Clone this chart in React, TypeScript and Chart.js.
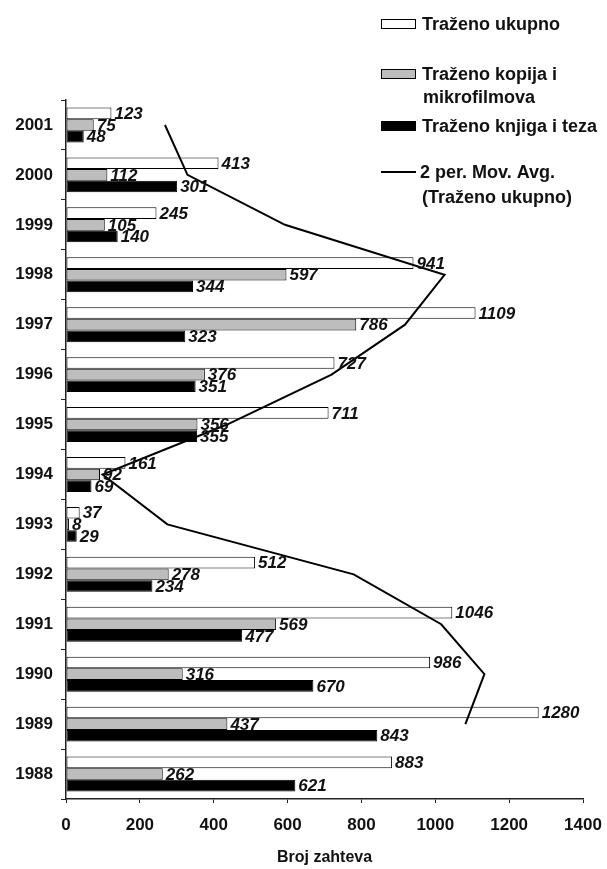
import React, { useEffect, useRef } from "react";
import { Chart, registerables } from "chart.js";

Chart.register(...registerables);

// Years listed top to bottom as they appear on the axis
const years = ["2001", "2000", "1999", "1998", "1997", "1996", "1995", "1994", "1993", "1992", "1991", "1990", "1989", "1988"];
const trazenoUkupno = [123, 413, 245, 941, 1109, 727, 711, 161, 37, 512, 1046, 986, 1280, 883];
const trazenoKopija = [75, 112, 105, 597, 786, 376, 356, 92, 8, 278, 569, 316, 437, 262];
const trazenoKnjiga = [48, 301, 140, 344, 323, 351, 355, 69, 29, 234, 477, 670, 843, 621];
// 2-period moving average of "Traženo ukupno" (no value for the first year, 1988)
const movingAvg = [268, 329, 593, 1025, 918, 719, 436, 99, 274.5, 779, 1016, 1133, 1081.5, null];
const xTicks = [0, 200, 400, 600, 800, 1000, 1200, 1400];

const FONT = '"Liberation Sans", Arial, sans-serif';
const W = 607;
const H = 869;

const valueLabels = {
  id: "valueLabels",
  afterDatasetsDraw(chart: any) {
    const ctx = chart.ctx;
    ctx.save();
    ctx.font = `italic bold 17px ${FONT}`;
    ctx.fillStyle = "#111";
    ctx.textAlign = "left";
    ctx.textBaseline = "middle";
    [0, 1, 2].forEach((di) => {
      const meta = chart.getDatasetMeta(di);
      const values = chart.data.datasets[di].data;
      meta.data.forEach((bar: any, i: number) => {
        ctx.fillText(String(values[i]), bar.x + 3, bar.y + 1);
      });
    });
    ctx.restore();
  },
};

const sideLegend = {
  id: "sideLegend",
  afterDraw(chart: any) {
    const ctx = chart.ctx;
    const sx = 381;
    const sw = 35;
    const tx = 422;
    ctx.save();
    ctx.font = `bold 18px ${FONT}`;
    ctx.fillStyle = "#111";
    ctx.textAlign = "left";
    ctx.textBaseline = "middle";
    const box = (y: number, fill: string) => {
      ctx.fillStyle = fill;
      ctx.fillRect(sx, y - 4.5, sw, 9);
      ctx.strokeStyle = "#000";
      ctx.lineWidth = 1;
      ctx.strokeRect(sx + 0.5, y - 4.5, sw - 1, 9);
      ctx.fillStyle = "#111";
    };
    box(24, "#ffffff");
    ctx.fillText("Traženo ukupno", tx, 25);
    box(74, "#bdbdbd");
    ctx.fillText("Traženo kopija i", tx, 75);
    ctx.fillText("mikrofilmova", tx + 1, 98);
    box(126, "#000000");
    ctx.fillText("Traženo knjiga i teza", tx, 127);
    ctx.strokeStyle = "#000";
    ctx.lineWidth = 2;
    ctx.beginPath();
    ctx.moveTo(sx, 172);
    ctx.lineTo(sx + sw, 172);
    ctx.stroke();
    ctx.fillText("2 per. Mov. Avg.", tx - 2, 173);
    ctx.fillText("(Traženo ukupno)", tx, 198);
    ctx.restore();
  },
};

export default function App() {
  const ref = useRef<HTMLCanvasElement | null>(null);

  useEffect(() => {
    if (!ref.current) return;
    const chart = new Chart(ref.current, {
      type: "bar",
      data: {
        labels: years,
        datasets: [
          {
            label: "Traženo ukupno",
            data: trazenoUkupno,
            backgroundColor: "#ffffff",
            borderColor: "#000",
            borderWidth: 1,
            borderSkipped: false,
          },
          {
            label: "Traženo kopija i mikrofilmova",
            data: trazenoKopija,
            backgroundColor: "#bdbdbd",
            borderColor: "#000",
            borderWidth: 1,
            borderSkipped: false,
          },
          {
            label: "Traženo knjiga i teza",
            data: trazenoKnjiga,
            backgroundColor: "#000000",
            borderColor: "#000",
            borderWidth: 1,
            borderSkipped: false,
          },
          {
            type: "line",
            label: "2 per. Mov. Avg. (Traženo ukupno)",
            data: movingAvg as any,
            borderColor: "#000",
            borderWidth: 2,
            pointRadius: 0,
            tension: 0,
            fill: false,
            spanGaps: false,
            order: -1,
          } as any,
        ],
      },
      options: {
        indexAxis: "y",
        animation: false,
        responsive: false,
        maintainAspectRatio: false,
        datasets: {
          bar: { categoryPercentage: 0.7, barPercentage: 1.0 },
        },
        layout: { padding: { left: 0, right: 24, top: 100, bottom: 0 } },
        plugins: {
          legend: { display: false },
          tooltip: { enabled: false },
        },
        scales: {
          x: {
            type: "linear",
            min: 0,
            max: 1400,
            afterBuildTicks: (scale: any) => {
              scale.ticks = xTicks.map((v) => ({ value: v }));
            },
            afterFit: (scale: any) => {
              scale.height = 70;
              scale.paddingRight = 0;
              scale.paddingLeft = 0;
            },
            ticks: {
              color: "#111",
              font: { family: FONT, size: 17, weight: "bold" },
              padding: 12,
              callback: (v: any) => String(v),
            },
            grid: {
              drawOnChartArea: false,
              drawTicks: true,
              tickLength: 4,
              color: "#222",
            },
            border: { display: true, color: "#222", width: 1.5 },
            title: {
              display: true,
              text: "Broj zahteva",
              color: "#111",
              font: { family: FONT, size: 16, weight: "bold", lineHeight: 1 },
              padding: { top: 0, bottom: 3 },
            },
          },
          y: {
            type: "category",
            offset: true,
            afterFit: (scale: any) => {
              scale.width = 66;
            },
            ticks: {
              color: "#111",
              font: { family: FONT, size: 17, weight: "bold" },
              padding: 8,
            },
            grid: {
              offset: true,
              drawOnChartArea: false,
              drawTicks: true,
              tickLength: 5,
              color: "#222",
            },
            border: { display: true, color: "#222", width: 1.5 },
          },
        },
      },
      plugins: [valueLabels, sideLegend],
    });
    return () => chart.destroy();
  }, []);

  return (
    <div style={{ position: "absolute", left: 0, top: 0, width: W, height: H, overflow: "hidden" }}>
      <canvas ref={ref} width={W} height={H} style={{ display: "block" }} />
    </div>
  );
}
